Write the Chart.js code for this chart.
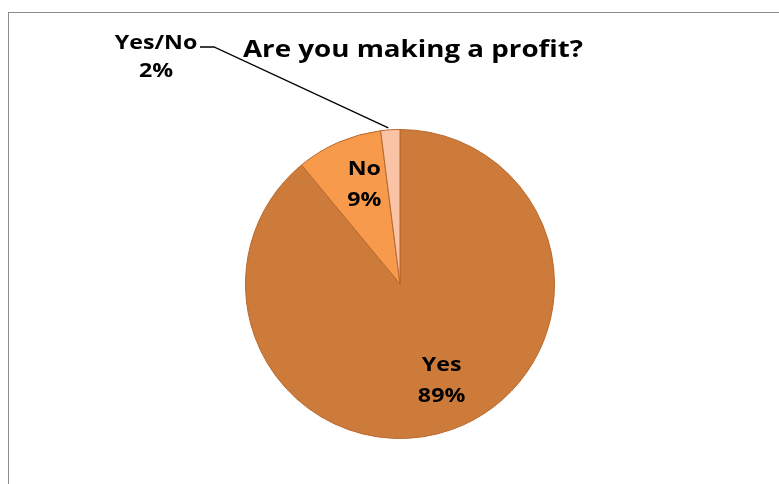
<!DOCTYPE html>
<html>
<head>
<meta charset="utf-8">
<script src="https://cdn.jsdelivr.net/npm/chart.js@4/dist/chart.umd.min.js"></script>
<style>
  html, body { margin: 0; padding: 0; background: #fff; }
  body { width: 779px; height: 484px; position: relative; overflow: hidden; }
  #frame { position: absolute; left: 8px; top: 12px; width: 800px; height: 500px;
           border-left: 1.5px solid #8a8a8a; border-top: 1.5px solid #8a8a8a; }
  #wrap { position: absolute; left: 0; top: 0; width: 779px; height: 484px; }
</style>
</head>
<body>
<div id="frame"></div>
<div id="wrap"><canvas id="chart" width="779" height="484"></canvas></div>
<script>
const categories = ['Yes', 'No', 'Yes/No'];
const percentages = [89, 9, 2];
const sliceColors = ['#CD7B3A', '#F79A4B', '#FAC3A5'];
const chartTitle = 'Are you making a profit?';

const FONT = '"Open Sans", sans-serif';

// text drawn slightly widened, like the wide bold face of the original
function wideText(ctx, text, x, y, sx) {
  ctx.save();
  ctx.translate(x, y);
  ctx.scale(sx, 1);
  ctx.fillText(text, 0, 0);
  ctx.restore();
}

const pieLabels = {
  id: 'pieLabels',
  afterDraw(chart) {
    const ctx = chart.ctx;
    const meta = chart.getDatasetMeta(0);
    ctx.save();
    ctx.fillStyle = '#000';
    ctx.textAlign = 'center';
    ctx.textBaseline = 'middle';

    // title
    ctx.font = 'bold 24px ' + FONT;
    wideText(ctx, chartTitle, 413, 50, 1.155);

    ctx.font = 'bold 20px ' + FONT;
    meta.data.forEach((arc, i) => {
      const p = arc.getProps(['x', 'y', 'startAngle', 'endAngle', 'outerRadius']);
      const mid = (p.startAngle + p.endAngle) / 2;
      const lines = [categories[i], percentages[i] + '%'];
      if (i < 2) {
        const d = p.outerRadius * 0.68;
        const cx = p.x + Math.cos(mid) * d + 6;
        const cy = p.y + Math.sin(mid) * d;
        wideText(ctx, lines[0], cx, cy - 18, 1.16);
        wideText(ctx, lines[1], cx, cy + 13, 1.16);
      } else {
        // outside label with leader line
        const ex = p.x + Math.cos(mid) * p.outerRadius;
        const ey = p.y + Math.sin(mid) * p.outerRadius;
        const lx = 156, ly = 57;
        ctx.strokeStyle = '#000';
        ctx.lineWidth = 1.3;
        ctx.beginPath();
        ctx.moveTo(ex - 2, ey - 2);
        ctx.lineTo(214, 47);
        ctx.lineTo(200, 47);
        ctx.stroke();
        wideText(ctx, lines[0], lx, ly - 14, 1.16);
        wideText(ctx, lines[1], lx, ly + 14, 1.16);
      }
    });
    ctx.restore();
  }
};

new Chart(document.getElementById('chart'), {
  type: 'pie',
  data: {
    labels: categories,
    datasets: [{
      data: percentages,
      backgroundColor: sliceColors,
      borderColor: '#B8672C',
      borderWidth: 1
    }]
  },
  options: {
    responsive: false,
    animation: false,
    layout: { padding: { left: 245, right: 224, top: 129, bottom: 45 } },
    plugins: {
      legend: { display: false },
      tooltip: { enabled: false },
      title: { display: false }
    }
  },
  plugins: [pieLabels]
});
</script>
</body>
</html>
